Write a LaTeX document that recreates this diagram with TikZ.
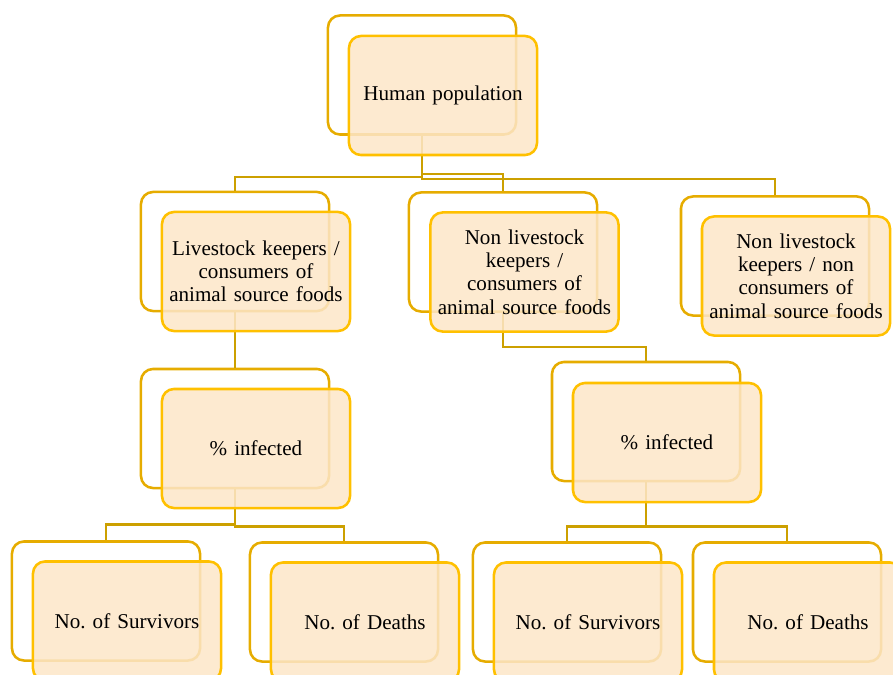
\documentclass[tikz,border=0pt]{standalone}
\usepackage{fontspec}
\setmainfont{Liberation Serif}
\frenchspacing
\definecolor{framegold}{RGB}{230,172,0}
\definecolor{boxgold}{RGB}{255,192,0}
\definecolor{boxfill}{RGB}{253,230,200}
\definecolor{linkgold}{RGB}{204,160,0}
\begin{document}
\begin{tikzpicture}
  [x=0.025cm,y=-0.025cm,
   backframe/.style={draw=framegold,line width=1.8pt,rounded corners=0.3cm,
     minimum width=4.7cm,minimum height=2.975cm,inner sep=0pt},
   frontbox/.style={draw=boxgold,line width=1.8pt,rounded corners=0.3cm,
     fill=boxfill,fill opacity=0.86,text opacity=1,
     minimum width=4.7cm,minimum height=2.975cm,text width=4.4cm,align=center,
     font=\fontsize{15}{16.5}\selectfont},
   link/.style={draw=linkgold,line width=1.8pt}]
  \useasboundingbox (0,0) rectangle (893,675);
  % back frames
  \node[backframe] (hpb) at (422,75) {};
  \node[backframe] (lkb) at (235,251.5) {};
  \node[backframe] (nlb) at (503,252) {};
  \node[backframe] (ntb) at (775,256) {};
  \node[backframe] (pi1b) at (235,428.5) {};
  \node[backframe] (pi2b) at (646,421.5) {};
  \node[backframe] (sv1b) at (106,601) {};
  \node[backframe] (dt1b) at (344,602) {};
  \node[backframe] (sv2b) at (567,602) {};
  \node[backframe] (dt2b) at (787,602) {};
  % connectors
  \path[link]
    (hpb.south) -- ++(0,41) -| (lkb.north)
    (hpb.south) -- ++(0,38) -| (nlb.north)
    (hpb.south) -- ++(0,43) -| (ntb.north)
    (lkb.south) -- (pi1b.north)
    (nlb.south) -- ++(0,34) -| (pi2b.north)
    (pi1b.south) -- ++(0,35) -| (sv1b.north)
    (pi1b.south) -- ++(0,37) -| (dt1b.north)
    (pi2b.south) -- ++(0,44) -| (sv2b.north)
    (pi2b.south) -- ++(0,44) -| (dt2b.north)
    ;
  % front boxes
  \node[frontbox] (hp) at (443,95.5) {Human population};
  \node[frontbox] (lk) at (256,271.5) {Livestock keepers /\\ consumers of\\ animal source foods};
  \node[frontbox] (nl) at (524.5,272) {Non livestock\\ keepers /\\ consumers of\\ animal source foods};
  \node[frontbox] (nt) at (796,276) {Non livestock\\ keepers / non\\ consumers of\\ animal source foods};
  \node[frontbox] (pi1) at (256,448.5) {\% infected};
  \node[frontbox] (pi2) at (667,442.5) {\% infected};
  \node[frontbox] (sv1) at (127,621) {No. of Survivors};
  \node[frontbox] (dt1) at (365,622) {No. of Deaths};
  \node[frontbox] (sv2) at (588,622) {No. of Survivors};
  \node[frontbox] (dt2) at (808,622) {No. of Deaths};

\end{tikzpicture}
\end{document}
